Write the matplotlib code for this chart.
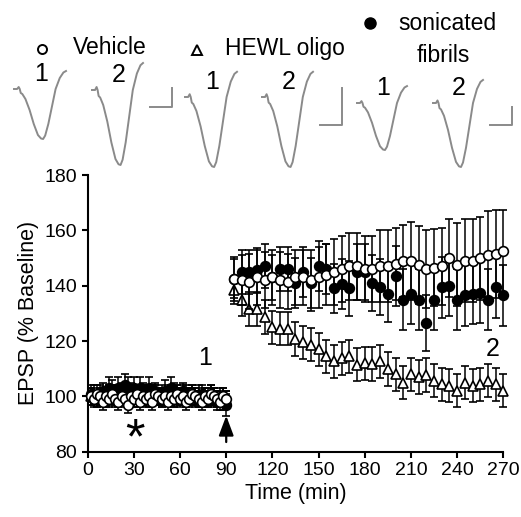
import matplotlib
matplotlib.use("Agg")
import matplotlib.pyplot as plt
import numpy as np

plt.rcParams["font.family"] = ["Liberation Sans", "DejaVu Sans"]

# baseline period (min) and post-tetanus period (min)
t_base = np.arange(2, 91, 2)
t_post = np.arange(95, 271, 5)

# Vehicle (open circles)
veh_base = [100, 99, 101, 100, 98, 100, 99, 101, 99, 98, 100, 99, 97, 100, 99,
            101, 98, 100, 99, 100, 98, 101, 100, 99, 100, 98, 100, 99, 101, 99,
            100, 98, 99, 101, 100, 99, 98, 100, 99, 101, 100, 99, 98, 100, 99]
veh_base_sem = [3, 3, 3, 3, 3, 3, 3, 3, 3, 3, 3, 3, 3, 3, 3,
                3, 3, 3, 3, 3, 3, 3, 3, 3, 3, 3, 3, 3, 3, 3,
                3, 3, 3, 3, 3, 3, 3, 3, 3, 3, 3, 3, 3, 3, 3]
veh_post = [142.5, 142, 141.5, 143, 142, 143, 142, 141.5, 143, 143, 142, 143,
            144, 145, 146, 147, 147, 146, 146, 147, 147, 148, 149, 149,
            147.5, 146, 146.5, 147, 150, 147.5, 149, 149, 150, 151, 151.5, 152.5]
veh_post_sem = [8, 9, 10, 10, 10, 10, 10, 10, 10, 10, 11, 11, 11, 12, 12, 12,
                12, 12, 12, 13, 13, 13, 13, 14, 14, 14, 14, 14, 14, 15, 15, 15,
                15, 16, 16, 15]

# HEWL oligo (open triangles)
hewl_base = [100, 101, 99, 100, 100, 99, 101, 100, 100, 99, 101, 100, 99, 100, 101,
             99, 100, 100, 101, 99, 100, 101, 100, 99, 100, 100, 101, 99, 100, 100,
             101, 99, 100, 100, 99, 101, 100, 99, 100, 101, 100, 99, 100, 100, 99]
hewl_base_sem = [3, 3, 3, 3, 3, 3, 3, 3, 3, 3, 3, 3, 3, 3, 3,
                 3, 3, 3, 3, 3, 3, 3, 3, 3, 3, 3, 3, 3, 3, 3,
                 3, 3, 3, 3, 3, 3, 3, 3, 3, 3, 3, 3, 3, 3, 3]
hewl_post = [138.3, 135, 131.6, 131.6, 128.7, 125, 124.5, 124.5, 120.7, 119.5,
             118.7, 117, 114.5, 112.6, 113.8, 114.5, 111.5, 112, 111.7, 112.6,
             109.9, 108, 105, 108, 107, 107.7, 105.6, 104.4, 103.8, 102, 105,
             103.8, 104.4, 105.6, 104.4, 102]
hewl_post_sem = [5, 6, 6, 6, 6, 6, 6, 6, 6, 6, 6, 6, 6, 6, 6, 6, 6, 6,
                 6, 6, 6, 6, 6, 6, 6, 6, 6, 6, 6, 6, 6, 6, 6, 6, 6, 6]

# sonicated fibrils (filled circles)
fib_base = [101, 100, 99, 101, 102, 100, 103, 102, 101, 103, 102, 104, 103, 102, 103,
            101, 103, 102, 101, 103, 101, 102, 100, 101, 102, 101, 103, 102, 101, 100,
            102, 101, 100, 101, 100, 99, 101, 100, 99, 100, 99, 98, 99, 98, 97]
fib_base_sem = [3, 3, 3, 3, 3, 3, 4, 4, 3, 4, 3, 4, 4, 3, 4,
                3, 4, 3, 3, 4, 3, 3, 3, 3, 4, 3, 4, 3, 3, 3,
                3, 3, 3, 3, 3, 3, 3, 3, 3, 3, 3, 3, 3, 3, 4]
fib_post = [142.5, 145, 145, 145.5, 147, 143, 146, 146, 141, 145, 141, 147, 146,
            139, 140.5, 139, 145, 145, 141, 139.5, 137, 143.5, 135, 137, 135,
            126.5, 135, 139.5, 140, 135, 136.5, 137, 137.5, 135, 139.5, 136.5]
fib_post_sem = [7, 8, 8, 8, 8, 8, 8, 8, 9, 9, 9, 9, 9, 9, 9, 10, 10, 10, 10, 10,
                10, 11, 11, 11, 11, 10, 11, 11, 11, 11, 11, 11, 11, 11, 11, 11]

# normalised EPSP waveform (x fraction, depth fraction) and sample traces
wave_x = [0.0, 0.06, 0.09, 0.11, 0.13, 0.16, 0.22, 0.30, 0.38, 0.46, 0.52, 0.56,
          0.60, 0.66, 0.73, 0.80, 0.88, 0.95, 1.0]
wave_y = [0.0, 0.0, 0.04, 0.0, -0.08, -0.10, -0.2, -0.42, -0.7, -0.92, -0.99, -1.0,
          -0.93, -0.7, -0.35, 0.0, 0.22, 0.33, 0.36]
# x0, y0, width, depth (pixels of the figure)
traces = [(14, 89, 52, 50), (92, 90, 51, 75), (185, 97, 52, 70),
          (262, 97, 51, 70), (357, 103, 50, 47), (433, 103, 50, 64)]
trace_labels = ["1", "2", "1", "2", "1", "2"]


def main():
    fig = plt.figure(figsize=(5.21, 5.17), dpi=100)
    ax = fig.add_axes([0.1683, 0.1263, 0.7977, 0.5352])

    err_kw = dict(ecolor="black", elinewidth=1.1, capsize=3.2, capthick=1.1,
                  markeredgecolor="black", markeredgewidth=1.2, markersize=7,
                  linestyle="none", clip_on=False)
    t_all = np.concatenate([t_base, t_post])
    hewl = np.concatenate([hewl_base, hewl_post])
    hewl_sem = np.concatenate([hewl_base_sem, hewl_post_sem])
    veh = np.concatenate([veh_base, veh_post])
    veh_sem = np.concatenate([veh_base_sem, veh_post_sem])
    fib = np.concatenate([fib_base, fib_post])
    fib_sem = np.concatenate([fib_base_sem, fib_post_sem])

    ax.errorbar(t_all, hewl, yerr=hewl_sem, marker="^", markerfacecolor="white",
                zorder=3, **err_kw)
    ax.errorbar(t_all, fib, yerr=fib_sem, marker="o", markerfacecolor="black",
                zorder=4, **err_kw)
    ax.errorbar(t_all, veh, yerr=veh_sem, marker="o", markerfacecolor="white",
                zorder=5, **err_kw)

    ax.set_xlim(0, 270)
    ax.set_ylim(80, 180)
    ax.set_xticks(np.arange(0, 271, 30))
    ax.set_yticks(np.arange(80, 181, 20))
    for side in ["top", "right"]:
        ax.spines[side].set_visible(False)
    for side in ["left", "bottom"]:
        ax.spines[side].set_linewidth(1.5)
    ax.tick_params(width=1.5, length=4.5, labelsize=14, pad=3)
    ax.set_xlabel("Time (min)", fontsize=15.5, labelpad=3)
    ax.set_ylabel("EPSP (% Baseline)", fontsize=15.5, labelpad=4)

    # annotations
    ax.text(76, 114, "1", fontsize=18, ha="center", va="center")
    ax.text(263, 117, "2", fontsize=18, ha="center", va="center")
    ax.text(31, 84, "*", fontsize=36, ha="center", va="center")
    ax.annotate("", xy=(90, 93), xytext=(90, 83.5),
                arrowprops=dict(arrowstyle="-|>,head_width=0.45,head_length=1.2",
                                color="black", lw=1.6, shrinkA=0, shrinkB=0),
                annotation_clip=False)

    # overlay in pixel coordinates for the inset traces and legend
    top = fig.add_axes([0, 0, 1, 1], facecolor="none")
    top.set_xlim(0, 521)
    top.set_ylim(517, 0)
    top.axis("off")

    wx = np.array(wave_x)
    wy = np.array(wave_y)
    for (x0, y0, w, d), lab in zip(traces, trace_labels):
        top.plot(x0 + wx * w, y0 - wy * d, color="#8a8a8a", lw=1.4)
    for (x0, y0, w, d), lab in zip(traces, trace_labels):
        top.text(x0 + 0.52 * w, y0 - 3, lab, fontsize=18, ha="center", va="bottom")

    # scale bars
    for xr, yt, yb in [(172, 88, 107), (342, 88, 125), (512, 107, 125)]:
        top.plot([xr - 22, xr, xr], [yb, yb, yt], color="#8a8a8a", lw=1.4)

    # legend
    top.plot([42], [49], marker="o", markersize=6.5, markerfacecolor="white",
             markeredgecolor="black", markeredgewidth=1.4)
    top.text(73, 48, "Vehicle", fontsize=16.5, ha="left", va="center")
    top.plot([197], [50], marker="^", markersize=6.5, markerfacecolor="white",
             markeredgecolor="black", markeredgewidth=1.4)
    top.text(225, 48, "HEWL oligo", fontsize=16.5, ha="left", va="center")
    top.plot([370], [23], marker="o", markersize=8, markerfacecolor="black",
             markeredgecolor="black")
    top.text(398, 24, "sonicated", fontsize=16.5, ha="left", va="center")
    top.text(443, 56, "fibrils", fontsize=16.5, ha="center", va="center")

    fig.savefig("out.png", dpi=100)


if __name__ == "__main__":
    main()
